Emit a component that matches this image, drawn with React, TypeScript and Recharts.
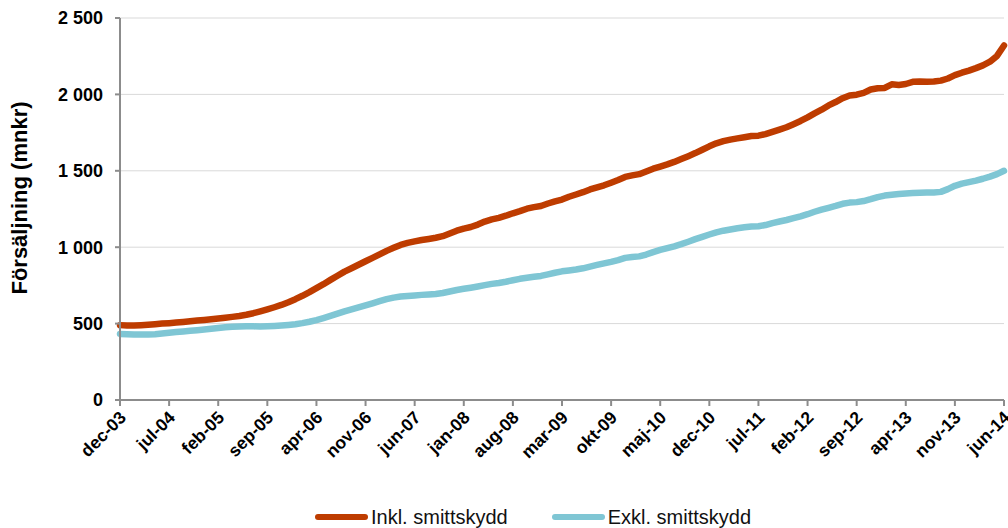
import React from "react";
import {
  LineChart,
  Line,
  XAxis,
  YAxis,
  CartesianGrid,
  Legend,
} from "recharts";

const MONTH_NAMES = ["jan", "feb", "mar", "apr", "maj", "jun", "jul", "aug", "sep", "okt", "nov", "dec"];

// dec-03 .. jun-14, one entry per month
const months: string[] = [];
for (let i = 0; i < 127; i++) {
  const m = (11 + i) % 12;
  const y = 3 + Math.floor((11 + i) / 12);
  months.push(`${MONTH_NAMES[m]}-${String(y).padStart(2, "0")}`);
}

const inklSmittskydd = [
  490, 488, 487, 489, 492, 496, 500, 503, 507, 511, 516, 520,
  524, 528, 533, 538, 544, 550, 558, 568, 580, 593, 607, 622,
  640, 660, 682, 706, 732, 758, 786, 813, 840, 862, 885, 908,
  930, 953, 976, 996, 1015, 1028, 1038, 1047, 1054, 1062, 1072, 1090,
  1108, 1122, 1132, 1148, 1168, 1182, 1192, 1206, 1222, 1236, 1252, 1262,
  1270, 1286, 1300, 1312, 1330, 1345, 1360, 1378, 1392, 1405, 1422, 1440,
  1460, 1470, 1478, 1496, 1514, 1528, 1542, 1558, 1577, 1596, 1616, 1638,
  1660, 1680, 1694, 1704, 1712, 1720, 1728, 1730, 1740, 1755, 1770, 1785,
  1805, 1826, 1850, 1876, 1900, 1928, 1950, 1975, 1993, 1998, 2010, 2032,
  2040, 2042, 2066, 2062, 2068, 2082, 2084, 2082, 2084, 2090, 2104, 2126,
  2142, 2156, 2172, 2190, 2214, 2252, 2320,
];

const exklSmittskydd = [
  432, 430, 428, 428, 429, 431, 435, 440, 445, 449, 453, 457,
  461, 466, 471, 476, 479, 481, 482, 482, 481, 482, 484, 487,
  491, 496, 503, 512, 523, 536, 550, 565, 580, 593, 606, 619,
  633, 647, 660, 670, 677, 681, 684, 688, 691, 694, 700, 710,
  720, 728, 735, 743, 752, 760, 766, 774, 784, 793, 800, 806,
  812, 822, 833, 842, 848, 854, 862, 873, 884, 894, 904, 916,
  930, 936, 940, 952, 968, 982, 994, 1006, 1020, 1036, 1053, 1068,
  1083, 1097, 1108, 1116, 1124, 1130, 1135, 1137, 1145, 1158, 1168, 1178,
  1190, 1202, 1216, 1232, 1246, 1258, 1270, 1284, 1292, 1295, 1302, 1314,
  1328, 1338, 1343, 1348, 1352, 1354, 1356, 1358, 1358, 1362, 1380, 1402,
  1416, 1426, 1436, 1448, 1462, 1478, 1500,
];

const yTicks = [0, 500, 1000, 1500, 2000, 2500];

const series = [
  { key: "inkl", name: "Inkl. smittskydd", color: "#be3c00" },
  { key: "exkl", name: "Exkl. smittskydd", color: "#7fc6d4" },
];

const data = months.map((month, i) => ({
  month,
  inkl: inklSmittskydd[i],
  exkl: exklSmittskydd[i],
}));

const FONT = '"Liberation Sans", Arial, sans-serif';
const AXIS_GREY = "#8c8c8c";

const formatThousands = (v: number) =>
  String(v).replace(/\B(?=(\d{3})+(?!\d))/g, " ");

function MonthTick({ x, y, payload }: any) {
  return (
    <g transform={`translate(${x},${y})`}>
      <text
        x={-4}
        y={14}
        textAnchor="end"
        transform="rotate(-45)"
        fontFamily={FONT}
        fontSize={17.5}
        fontWeight="bold"
        fill="#000"
      >
        {payload.value}
      </text>
    </g>
  );
}

function YTitle({ viewBox }: any) {
  const cy = viewBox.y + viewBox.height / 2 - 11;
  return (
    <text
      x={27}
      y={cy}
      transform={`rotate(-90, 27, ${cy})`}
      textAnchor="middle"
      fontFamily={FONT}
      fontSize={22}
      fontWeight="bold"
      fill="#000"
    >
      Försäljning (mnkr)
    </text>
  );
}

// keep legend entries in series order rather than alphabetical
function LegendRow({ payload }: any) {
  const order = series.map((s) => s.name);
  const items = [...(payload || [])].sort(
    (a: any, b: any) => order.indexOf(a.value) - order.indexOf(b.value)
  );
  return (
    <div
      style={{
        height: 26,
        paddingTop: 4,
        paddingLeft: 315,
        boxSizing: "border-box",
        display: "flex",
        alignItems: "center",
        fontFamily: FONT,
        fontSize: 20,
        color: "#111",
      }}
    >
      {items.map((entry: any) => (
        <div key={entry.value} style={{ display: "flex", alignItems: "center", marginRight: 44 }}>
          <span
            style={{
              width: 53,
              height: 6,
              borderRadius: 3,
              background: entry.color,
              marginRight: 3,
            }}
          />
          <span>{entry.value}</span>
        </div>
      ))}
    </div>
  );
}

export default function App() {
  return (
    <div style={{ position: "absolute", left: 0, top: 0, background: "#fff" }}>
      <LineChart
        width={1008}
        height={528}
        data={data}
        margin={{ top: 18, right: 4, bottom: 0, left: 0 }}
      >
        <CartesianGrid vertical={false} stroke="#d9d9d9" strokeWidth={1} />
        <XAxis
          dataKey="month"
          interval={6}
          height={102}
          tick={<MonthTick />}
          tickSize={6}
          tickMargin={0}
          axisLine={{ stroke: AXIS_GREY, strokeWidth: 2 }}
          tickLine={{ stroke: AXIS_GREY, strokeWidth: 2 }}
        />
        <YAxis
          width={120}
          domain={[0, 2500]}
          ticks={yTicks}
          tickFormatter={formatThousands}
          tickSize={5}
          tickMargin={12}
          tick={{ fontFamily: FONT, fontSize: 18, fontWeight: "bold", fill: "#000" }}
          axisLine={{ stroke: AXIS_GREY, strokeWidth: 2 }}
          tickLine={{ stroke: AXIS_GREY, strokeWidth: 2 }}
          label={<YTitle />}
        />
        <Legend
          verticalAlign="bottom"
          wrapperStyle={{ left: 0, width: 1008, bottom: 0 }}
          content={<LegendRow />}
        />
        {series.map((s) => (
          <Line
            key={s.key}
            name={s.name}
            dataKey={s.key}
            stroke={s.color}
            strokeWidth={6.5}
            strokeLinecap="round"
            strokeLinejoin="round"
            dot={false}
            isAnimationActive={false}
          />
        ))}
      </LineChart>
    </div>
  );
}
